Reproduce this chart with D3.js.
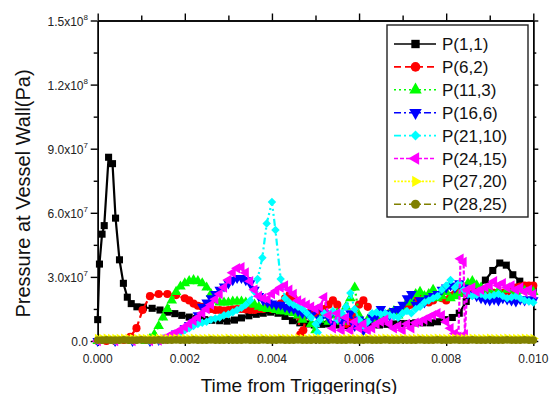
<!DOCTYPE html>
<html>
<head>
<meta charset="utf-8">
<script src="https://cdn.jsdelivr.net/npm/d3@7/dist/d3.min.js"></script>
<style>
  body { margin: 0; background: #fff; }
  svg { display: block; font-family: Arial, "Liberation Sans", sans-serif; }
</style>
</head>
<body>
<svg id="chart" width="550" height="394"></svg>
<script>
// time in ms, pressure in 1e7 Pa
const p1_1 = [[0,1.0],[0.04,3.6],[0.1,5.0],[0.15,5.4],[0.25,8.6],[0.34,8.3],[0.41,5.75],[0.5,3.8],[0.59,2.7],[0.68,2.05],[0.77,1.75],[0.9,1.6],[1.05,1.58],[1.25,1.53],[1.43,1.45],[1.6,1.35],[1.77,1.28],[1.93,1.2],[2.1,1.12],[2.27,1.05],[2.45,1.0],[2.62,0.97],[2.8,0.95],[2.97,0.93],[3.14,0.98],[3.3,1.08],[3.47,1.18],[3.64,1.25],[3.8,1.3],[3.97,1.35],[4.14,1.3],[4.3,1.15],[4.47,0.95],[4.64,0.85],[4.8,0.8],[4.97,0.75],[5.14,0.78],[5.3,0.8],[5.47,0.75],[5.64,0.72],[5.8,0.7],[5.97,0.7],[6.14,0.72],[6.3,0.75],[6.47,0.75],[6.64,0.78],[6.8,0.8],[6.97,0.82],[7.14,0.82],[7.3,0.85],[7.47,0.85],[7.64,0.85],[7.8,0.9],[7.97,1.0],[8.14,1.1],[8.3,1.3],[8.46,1.85],[8.7,2.4],[8.9,2.85],[9.07,3.3],[9.23,3.65],[9.38,3.55],[9.53,3.1],[9.69,2.8],[9.84,2.55],[10,2.4]];

const p6_2 = [[0,0],[0.2,0],[0.4,0],[0.6,0.05],[0.75,0.2],[0.89,0.6],[1.03,1.45],[1.2,2.1],[1.4,2.2],[1.6,2.2],[1.8,2.15],[2.0,2.0],[2.1,1.9],[2.2,1.75],[2.3,1.65],[2.4,1.6],[2.5,1.55],[2.6,1.5],[2.7,1.45],[2.8,1.45],[2.9,1.42],[3.0,1.45],[3.1,1.48],[3.2,1.5],[3.3,1.5],[3.4,1.48],[3.5,1.45],[3.6,1.45],[3.7,1.5],[3.8,1.5],[3.9,1.55],[4.0,1.5],[4.1,1.6],[4.2,1.75],[4.3,2.0],[4.4,2.15],[4.5,2.0],[4.6,1.2],[4.65,0.3],[4.72,0.5],[4.8,1.3],[4.9,1.35],[5.0,1.3],[5.1,1.4],[5.2,1.5],[5.3,1.7],[5.4,1.9],[5.5,1.7],[5.6,1.0],[5.7,0.8],[5.8,0.9],[5.9,1.2],[6.0,1.7],[6.1,1.9],[6.2,1.6],[6.3,1.1],[6.4,1.2],[6.5,1.1],[6.6,1.2],[6.7,1.3],[6.8,1.3],[6.9,1.4],[7.0,1.5],[7.1,1.6],[7.2,1.7],[7.3,1.9],[7.4,2.15],[7.5,1.9],[7.6,1.8],[7.7,1.9],[7.8,2.1],[7.9,2.0],[8.0,1.9],[8.1,2.1],[8.2,2.2],[8.3,2.3],[8.4,2.25],[8.5,2.2],[8.6,2.2],[8.7,2.25],[8.8,2.2],[8.9,2.25],[9.0,2.3],[9.1,2.25],[9.2,2.2],[9.3,2.25],[9.4,2.3],[9.5,2.4],[9.6,2.5],[9.7,2.55],[9.8,2.6],[9.9,2.6],[10,2.6]];

const p11_3 = [[0,0],[0.4,0],[0.8,0],[1.1,0],[1.2,0.1],[1.3,0.3],[1.4,0.7],[1.5,1.1],[1.6,1.5],[1.7,1.9],[1.8,2.3],[1.9,2.55],[2.0,2.7],[2.1,2.8],[2.2,2.85],[2.3,2.8],[2.4,2.7],[2.5,2.5],[2.6,2.2],[2.7,1.9],[2.8,1.8],[2.9,1.8],[3.0,1.8],[3.1,1.85],[3.2,1.85],[3.3,1.85],[3.4,1.8],[3.5,1.75],[3.6,1.7],[3.7,1.6],[3.8,1.55],[3.9,1.5],[4.0,1.5],[4.1,1.45],[4.2,1.4],[4.3,1.4],[4.4,1.35],[4.5,1.3],[4.6,1.2],[4.7,1.0],[4.8,1.2],[4.9,0.8],[5.0,0.5],[5.1,1.0],[5.2,1.2],[5.3,0.9],[5.4,1.2],[5.5,1.3],[5.6,0.9],[5.7,1.6],[5.8,2.0],[5.9,2.5],[6.0,1.2],[6.1,0.8],[6.2,1.0],[6.3,1.1],[6.4,1.0],[6.5,1.1],[6.6,1.2],[6.7,1.3],[6.8,1.4],[6.9,1.2],[7.0,1.5],[7.1,1.8],[7.2,1.9],[7.3,2.2],[7.4,2.3],[7.5,2.1],[7.6,2.2],[7.7,2.4],[7.8,2.0],[7.9,2.1],[8.0,2.3],[8.1,2.0],[8.2,2.1],[8.3,2.2],[8.4,2.5],[8.5,2.7],[8.6,2.8],[8.7,2.6],[8.8,2.5],[8.9,2.4],[9.0,2.4],[9.2,2.35],[9.4,2.4],[9.6,2.3],[9.8,2.35],[10,2.3]];

const p16_6 = [[0,0],[0.4,0],[0.8,0],[1.2,0],[1.4,0.05],[1.6,0.15],[1.8,0.35],[2.0,0.6],[2.1,0.75],[2.2,0.9],[2.3,1.2],[2.4,1.6],[2.5,1.8],[2.6,2.0],[2.7,2.2],[2.8,2.4],[2.9,2.55],[3.0,2.7],[3.1,2.85],[3.2,2.95],[3.3,2.95],[3.4,2.85],[3.5,2.7],[3.6,2.4],[3.7,2.1],[3.8,1.9],[3.9,1.8],[4.0,1.75],[4.1,1.7],[4.2,1.7],[4.3,1.6],[4.4,1.55],[4.5,1.5],[4.6,1.4],[4.7,1.3],[4.8,1.3],[4.9,1.2],[5.0,1.5],[5.1,1.0],[5.2,1.3],[5.3,1.1],[5.4,0.8],[5.5,1.2],[5.6,0.9],[5.7,1.1],[5.8,1.3],[5.9,0.7],[6.0,1.0],[6.1,0.5],[6.2,0.9],[6.3,1.1],[6.4,1.2],[6.5,1.5],[6.6,1.3],[6.7,1.2],[6.8,1.4],[6.9,1.5],[7.0,1.7],[7.1,2.0],[7.2,2.2],[7.3,1.7],[7.4,1.9],[7.5,1.8],[7.6,2.0],[7.7,2.1],[7.8,2.2],[7.9,2.4],[8.0,2.5],[8.1,2.6],[8.2,2.5],[8.3,2.7],[8.4,2.5],[8.5,2.2],[8.6,2.2],[8.7,2.1],[8.8,2.0],[8.9,1.95],[9.0,1.9],[9.1,1.95],[9.2,1.9],[9.3,2.0],[9.4,1.95],[9.5,1.9],[9.6,1.85],[9.7,1.95],[9.8,1.9],[9.9,1.95],[10,1.9]];

const p21_10 = [[0,0],[0.4,0],[0.8,0],[1.2,0],[1.4,0.02],[1.5,0.05],[1.6,0.1],[1.7,0.2],[1.8,0.3],[1.9,0.4],[2.0,0.5],[2.1,0.6],[2.2,0.7],[2.3,0.8],[2.4,0.85],[2.5,0.9],[2.6,1.0],[2.7,1.05],[2.8,1.1],[2.9,1.2],[3.0,1.25],[3.1,1.35],[3.2,1.45],[3.3,1.55],[3.4,1.7],[3.5,1.9],[3.6,2.3],[3.67,2.9],[3.78,3.9],[3.88,5.5],[4.0,6.5],[4.08,5.2],[4.2,2.9],[4.3,2.0],[4.4,1.8],[4.5,1.7],[4.6,1.6],[4.7,1.5],[4.8,1.3],[4.9,1.1],[5.0,0.8],[5.05,0.4],[5.1,1.0],[5.2,1.3],[5.3,1.2],[5.4,1.4],[5.5,1.0],[5.6,1.3],[5.7,1.6],[5.8,2.25],[5.9,1.5],[6.0,1.0],[6.1,0.7],[6.2,0.9],[6.3,1.3],[6.4,1.35],[6.5,1.25],[6.6,1.3],[6.7,1.2],[6.8,1.15],[6.9,1.1],[7.0,1.3],[7.1,1.4],[7.2,1.3],[7.3,1.5],[7.4,1.6],[7.5,1.8],[7.6,1.9],[7.7,2.0],[7.8,2.1],[7.9,2.4],[8.0,2.6],[8.1,2.85],[8.2,2.5],[8.3,2.7],[8.4,2.4],[8.5,2.2],[8.6,2.1],[8.7,2.15],[8.8,2.2],[8.9,2.1],[9.0,2.1],[9.1,2.15],[9.2,2.2],[9.3,2.1],[9.4,2.0],[9.5,2.05],[9.6,2.1],[9.7,2.0],[9.8,1.9],[9.9,1.85],[10,1.8]];

const p24_15 = [[0,0],[0.4,0],[0.8,0],[1.2,0],[1.4,0.02],[1.5,0.1],[1.6,0.2],[1.7,0.3],[1.8,0.4],[1.9,0.5],[2.0,0.65],[2.1,0.8],[2.2,0.95],[2.3,1.1],[2.4,1.3],[2.5,1.5],[2.6,1.7],[2.7,1.95],[2.8,2.2],[2.9,2.5],[3.0,2.85],[3.1,3.2],[3.2,3.4],[3.3,3.45],[3.4,3.2],[3.5,2.8],[3.6,2.4],[3.7,2.1],[3.8,2.0],[3.9,1.95],[4.0,2.2],[4.1,2.35],[4.2,2.5],[4.3,2.6],[4.4,2.4],[4.5,2.2],[4.6,1.9],[4.7,1.8],[4.8,1.7],[4.9,1.6],[5.0,1.5],[5.1,1.6],[5.2,2.05],[5.3,1.2],[5.4,0.6],[5.5,1.3],[5.6,0.5],[5.7,1.1],[5.8,0.5],[5.9,0.9],[6.0,0.6],[6.1,0.8],[6.2,0.5],[6.3,0.6],[6.4,0.8],[6.5,0.9],[6.6,1.0],[6.7,0.8],[6.8,0.6],[6.9,0.7],[7.0,0.5],[7.1,0.8],[7.2,0.6],[7.3,0.85],[7.4,0.9],[7.5,1.0],[7.6,1.1],[7.7,1.2],[7.8,1.3],[7.9,1.2],[8.0,0.9],[8.1,0.6],[8.2,0.35],[8.28,0.2],[8.33,3.85],[8.4,3.7],[8.43,0.3],[8.48,2.4],[8.6,2.5],[8.7,2.3],[8.8,2.4],[8.9,2.5],[9.0,2.6],[9.1,2.8],[9.2,2.6],[9.3,2.7],[9.4,2.5],[9.5,2.6],[9.6,2.4],[9.7,2.5],[9.8,2.3],[9.9,2.4],[10,2.2]];

const p27_20 = [[0,0.12],[0.1,0.12],[0.2,0.13],[0.3,0.12],[0.4,0.12],[0.5,0.12],[0.6,0.13],[0.7,0.12],[0.8,0.12],[0.9,0.12],[1.0,0.13],[1.1,0.12],[1.2,0.12],[1.3,0.12],[1.4,0.13],[1.5,0.12],[1.6,0.12],[1.7,0.12],[1.8,0.13],[1.9,0.12],[2.0,0.12],[2.1,0.12],[2.2,0.13],[2.3,0.12],[2.4,0.12],[2.5,0.12],[2.6,0.13],[2.7,0.12],[2.8,0.12],[2.9,0.12],[3.0,0.13],[3.1,0.12],[3.2,0.12],[3.3,0.12],[3.4,0.13],[3.5,0.12],[3.6,0.12],[3.7,0.12],[3.8,0.13],[3.9,0.12],[4.0,0.12],[4.1,0.12],[4.2,0.13],[4.3,0.12],[4.4,0.12],[4.5,0.12],[4.6,0.13],[4.7,0.12],[4.8,0.12],[4.9,0.12],[5.0,0.13],[5.1,0.12],[5.2,0.12],[5.3,0.12],[5.4,0.13],[5.5,0.12],[5.6,0.12],[5.7,0.12],[5.8,0.13],[5.9,0.12],[6.0,0.12],[6.1,0.12],[6.2,0.13],[6.3,0.12],[6.4,0.12],[6.5,0.12],[6.6,0.13],[6.7,0.12],[6.8,0.12],[6.9,0.12],[7.0,0.13],[7.1,0.12],[7.2,0.12],[7.3,0.12],[7.4,0.13],[7.5,0.12],[7.6,0.12],[7.7,0.12],[7.8,0.13],[7.9,0.12],[8.0,0.12],[8.1,0.12],[8.2,0.13],[8.3,0.12],[8.4,0.12],[8.5,0.12],[8.6,0.13],[8.7,0.12],[8.8,0.12],[8.9,0.12],[9.0,0.13],[9.1,0.12],[9.2,0.12],[9.3,0.12],[9.4,0.13],[9.5,0.12],[9.6,0.12],[9.7,0.12],[9.8,0.13],[9.9,0.12],[10,0.12]];

const p28_25 = [[0,0.04],[0.1,0.04],[0.2,0.05],[0.3,0.04],[0.4,0.04],[0.5,0.04],[0.6,0.05],[0.7,0.04],[0.8,0.04],[0.9,0.04],[1.0,0.05],[1.1,0.04],[1.2,0.04],[1.3,0.04],[1.4,0.05],[1.5,0.04],[1.6,0.04],[1.7,0.04],[1.8,0.05],[1.9,0.04],[2.0,0.04],[2.1,0.04],[2.2,0.05],[2.3,0.04],[2.4,0.04],[2.5,0.04],[2.6,0.05],[2.7,0.04],[2.8,0.04],[2.9,0.04],[3.0,0.05],[3.1,0.04],[3.2,0.04],[3.3,0.04],[3.4,0.05],[3.5,0.04],[3.6,0.04],[3.7,0.04],[3.8,0.05],[3.9,0.04],[4.0,0.04],[4.1,0.04],[4.2,0.05],[4.3,0.04],[4.4,0.04],[4.5,0.04],[4.6,0.05],[4.7,0.04],[4.8,0.04],[4.9,0.04],[5.0,0.05],[5.1,0.04],[5.2,0.04],[5.3,0.04],[5.4,0.05],[5.5,0.04],[5.6,0.04],[5.7,0.04],[5.8,0.05],[5.9,0.04],[6.0,0.04],[6.1,0.04],[6.2,0.05],[6.3,0.04],[6.4,0.04],[6.5,0.04],[6.6,0.05],[6.7,0.04],[6.8,0.04],[6.9,0.04],[7.0,0.05],[7.1,0.04],[7.2,0.04],[7.3,0.04],[7.4,0.05],[7.5,0.04],[7.6,0.04],[7.7,0.04],[7.8,0.05],[7.9,0.04],[8.0,0.04],[8.1,0.04],[8.2,0.05],[8.3,0.04],[8.4,0.04],[8.5,0.04],[8.6,0.05],[8.7,0.04],[8.8,0.04],[8.9,0.04],[9.0,0.05],[9.1,0.04],[9.2,0.04],[9.3,0.04],[9.4,0.05],[9.5,0.04],[9.6,0.04],[9.7,0.04],[9.8,0.05],[9.9,0.04],[10,0.04]];

const seriesNames = ["P(1,1)", "P(6,2)", "P(11,3)", "P(16,6)", "P(21,10)", "P(24,15)", "P(27,20)", "P(28,25)"];
const seriesData = [p1_1, p6_2, p11_3, p16_6, p21_10, p24_15, p27_20, p28_25];

const xTickVals = [0, 2, 4, 6, 8, 10];
const xTickLabels = ["0.000", "0.002", "0.004", "0.006", "0.008", "0.010"];
const xMinorVals = [1, 3, 5, 7, 9];
const yTickVals = [0, 3, 6, 9, 12, 15];
const yTickLabels = [["0.0", ""], ["3.0x10", "7"], ["6.0x10", "7"], ["9.0x10", "7"], ["1.2x10", "8"], ["1.5x10", "8"]];
const yMinorVals = [1.5, 4.5, 7.5, 10.5, 13.5];

// style per series: color, dash, marker
const styles = [
  { color: "#000000", dash: null,          sym: d3.symbolSquare,   size: 50, rot: 0 },
  { color: "#ff0000", dash: "7,4",         sym: d3.symbolCircle,   size: 52, rot: 0 },
  { color: "#00ff00", dash: "2,3",         sym: d3.symbolTriangle, size: 48, rot: 0 },
  { color: "#0000ff", dash: "7,3,2,3",     sym: d3.symbolTriangle, size: 48, rot: 180 },
  { color: "#00ffff", dash: "7,3,2,3,2,3", sym: d3.symbolSquare,   size: 36, rot: 45 },
  { color: "#ff00ff", dash: "4,2",         sym: d3.symbolTriangle, size: 48, rot: -90 },
  { color: "#ffff00", dash: "2,1.5",       sym: d3.symbolTriangle, size: 40, rot: 90 },
  { color: "#808000", dash: "7,3,2,3",     sym: d3.symbolCircle,   size: 46, rot: 0 }
];

const svg = d3.select("#chart");
const plotL = 97.7, plotR = 533.3, plotT = 20.5, plotB = 341;

const x = d3.scaleLinear().domain([0, 10]).range([plotL, plotR]);
const y = d3.scaleLinear().domain([0, 15]).range([plotB, plotT]);

// axes
const axisG = svg.append("g").attr("class", "axes");

function styleAxis(g) {
  g.selectAll("path, line").attr("stroke", "#000").attr("stroke-width", 1.4);
  g.selectAll("text").remove();
}

axisG.append("g").attr("transform", `translate(0,${plotB})`)
  .call(d3.axisBottom(x).tickValues(xTickVals).tickSize(5).tickSizeOuter(0).tickFormat(""))
  .call(styleAxis);
axisG.append("g").attr("transform", `translate(0,${plotB})`)
  .call(d3.axisBottom(x).tickValues(xMinorVals).tickSize(3).tickSizeOuter(0).tickFormat(""))
  .call(styleAxis);
axisG.append("g").attr("transform", `translate(0,${plotT})`)
  .call(d3.axisTop(x).tickValues(xTickVals).tickSize(7).tickSizeOuter(0).tickFormat(""))
  .call(styleAxis);
axisG.append("g").attr("transform", `translate(0,${plotT})`)
  .call(d3.axisTop(x).tickValues(xMinorVals).tickSize(5).tickSizeOuter(0).tickFormat(""))
  .call(styleAxis);
axisG.append("g").attr("transform", `translate(${plotL},0)`)
  .call(d3.axisLeft(y).tickValues(yTickVals).tickSize(7).tickSizeOuter(0).tickFormat(""))
  .call(styleAxis);
axisG.append("g").attr("transform", `translate(${plotL},0)`)
  .call(d3.axisLeft(y).tickValues(yMinorVals).tickSize(4).tickSizeOuter(0).tickFormat(""))
  .call(styleAxis);
axisG.append("g").attr("transform", `translate(${plotR},0)`)
  .call(d3.axisRight(y).tickValues(yTickVals).tickSize(5).tickSizeOuter(0).tickFormat(""))
  .call(styleAxis);
axisG.append("g").attr("transform", `translate(${plotR},0)`)
  .call(d3.axisRight(y).tickValues(yMinorVals).tickSize(3).tickSizeOuter(0).tickFormat(""))
  .call(styleAxis);

// tick labels
svg.append("g").selectAll("text")
  .data(xTickVals)
  .join("text")
  .attr("x", d => x(d))
  .attr("y", 362.5)
  .attr("text-anchor", "middle")
  .attr("font-size", 12)
  .attr("fill", "#222")
  .text((d, i) => xTickLabels[i]);

const yLab = svg.append("g").selectAll("text")
  .data(yTickVals)
  .join("text")
  .attr("x", 88)
  .attr("y", d => y(d) + 5)
  .attr("text-anchor", "end")
  .attr("font-size", 12)
  .attr("fill", "#222");
yLab.append("tspan").text((d, i) => yTickLabels[i][0]);
yLab.append("tspan").attr("font-size", 8).attr("dy", -6).text((d, i) => yTickLabels[i][1]);

// axis titles
svg.append("text")
  .attr("x", 299).attr("y", 391.5)
  .attr("text-anchor", "middle")
  .attr("font-size", 19)
  .attr("fill", "#111")
  .text("Time from Triggering(s)");

svg.append("text")
  .attr("transform", `translate(30,193.5) rotate(-90)`)
  .attr("text-anchor", "middle")
  .attr("font-size", 20)
  .attr("fill", "#111")
  .text("Pressure at Vessel Wall(Pa)");

// series
const line = d3.line().x(d => x(d[0])).y(d => y(d[1]));
const seriesG = svg.append("g").attr("class", "series");

seriesData.forEach((data, i) => {
  const st = styles[i];
  const g = seriesG.append("g");
  g.append("path")
    .datum(data)
    .attr("d", line)
    .attr("fill", "none")
    .attr("stroke", st.color)
    .attr("stroke-width", 2.2)
    .attr("stroke-linejoin", "round")
    .attr("stroke-dasharray", st.dash);
  g.selectAll("path.mk")
    .data(data)
    .join("path")
    .attr("class", "mk")
    .attr("d", d3.symbol(st.sym, st.size))
    .attr("transform", d => `translate(${x(d[0])},${y(d[1])}) rotate(${st.rot})`)
    .attr("fill", st.color);
});

// legend
const lg = svg.append("g").attr("class", "legend");
lg.append("rect")
  .attr("x", 387).attr("y", 25)
  .attr("width", 141).attr("height", 192)
  .attr("fill", "#fff")
  .attr("stroke", "#222")
  .attr("stroke-width", 1.4);

const items = lg.selectAll("g.item")
  .data(seriesNames)
  .join("g")
  .attr("class", "item")
  .attr("transform", (d, i) => `translate(0,${44 + i * 22.9})`);

items.append("line")
  .attr("x1", 394).attr("x2", 436)
  .attr("y1", 0).attr("y2", 0)
  .attr("stroke", (d, i) => styles[i].color)
  .attr("stroke-width", 1.6)
  .attr("stroke-dasharray", (d, i) => styles[i].dash);

items.append("path")
  .attr("d", (d, i) => d3.symbol(styles[i].sym, styles[i].size * 1.4)())
  .attr("transform", (d, i) => `translate(415.5,0) rotate(${styles[i].rot})`)
  .attr("fill", (d, i) => styles[i].color);

items.append("text")
  .attr("x", 442)
  .attr("y", 6)
  .attr("font-size", 17)
  .attr("fill", "#111")
  .text(d => d);
</script>
</body>
</html>
